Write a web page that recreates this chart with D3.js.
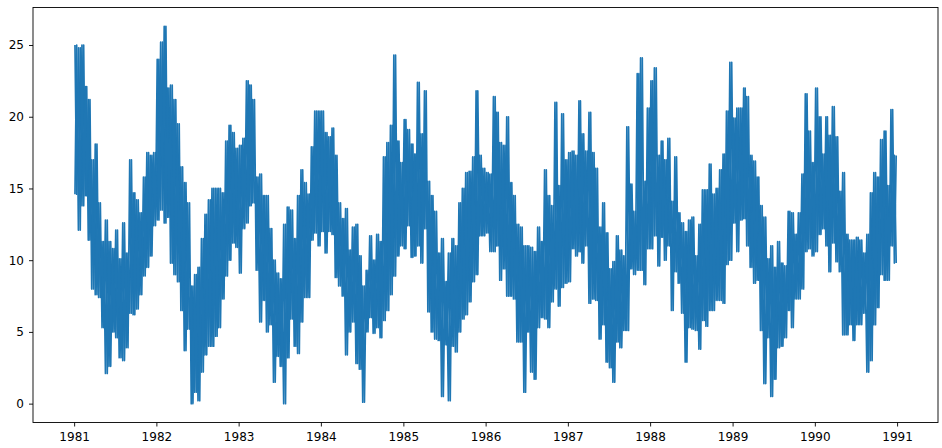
<!DOCTYPE html>
<html>
<head>
<meta charset="utf-8">
<script src="https://cdn.jsdelivr.net/npm/d3@7"></script>
<style>
    body { margin: 0; background: #fff; }
    text { font-family: "DejaVu Sans", sans-serif; }
</style>
</head>
<body>
<div id="output"></div>
<script>
    var width = 942;
    var height = 448;
    var plot = {left: 33, right: 938, top: 7.5, bottom: 422.5};

    var line_color = '#1f77b4';

    var years = [1981, 1982, 1983, 1984, 1985, 1986, 1987, 1988, 1989, 1990];
    var yTicks = [0, 5, 10, 15, 20, 25];

    // daily min temperature, read per half month as lowest / highest value
    var low1981  = [14.6, 12.1, 13.8, 14.5, 11.4, 8.0, 7.6, 7.4, 5.3, 2.1, 2.6, 5.0, 4.6, 3.2, 3.0, 3.9, 6.3, 6.2, 6.6, 7.6, 8.9, 9.5, 10.3, 12.4];
    var high1981 = [25.0, 24.8, 25.0, 22.1, 21.2, 17.0, 18.1, 14.0, 11.3, 12.8, 11.3, 10.8, 12.1, 10.1, 12.6, 10.5, 17.0, 14.7, 14.2, 13.3, 15.8, 17.5, 17.3, 17.5];
    var low1982  = [12.8, 13.5, 12.6, 13.0, 9.8, 9.0, 8.5, 6.5, 3.7, 5.2, 0.0, 0.8, 0.2, 2.2, 3.4, 4.0, 4.0, 4.7, 5.3, 7.3, 8.9, 10.0, 11.2, 10.9];
    var high1982 = [24.0, 25.2, 26.3, 22.0, 22.2, 21.2, 19.5, 16.5, 15.4, 14.0, 8.2, 9.0, 9.5, 11.5, 13.2, 14.2, 15.0, 15.0, 15.0, 14.7, 18.3, 19.4, 18.9, 17.8];
    var low1983  = [9.1, 12.2, 12.6, 13.8, 14.0, 9.3, 5.7, 7.2, 5.0, 5.5, 1.5, 3.3, 2.6, 0.0, 3.2, 5.9, 4.0, 3.5, 5.7, 7.4, 7.4, 11.4, 11.9, 11.0];
    var high1983 = [18.0, 18.5, 22.5, 22.2, 21.2, 15.8, 16.0, 14.5, 14.5, 12.2, 10.0, 9.1, 8.7, 12.5, 13.7, 13.5, 11.5, 14.5, 16.3, 15.4, 14.6, 17.9, 20.4, 20.4];
    var low1984  = [12.0, 10.5, 12.0, 11.8, 8.8, 8.2, 7.5, 3.4, 5.0, 5.7, 2.8, 2.4, 0.1, 5.0, 6.0, 4.9, 5.3, 4.6, 5.8, 6.5, 7.6, 8.9, 10.3, 11.0];
    var high1984 = [20.4, 18.9, 18.6, 19.2, 17.3, 14.0, 12.9, 13.6, 10.7, 12.3, 12.5, 10.3, 8.2, 9.3, 11.7, 10.0, 11.8, 11.3, 17.2, 18.2, 19.4, 24.3, 18.3, 16.8];
    var low1985  = [10.8, 12.4, 10.2, 10.3, 11.0, 9.8, 12.2, 6.4, 5.0, 4.5, 4.4, 0.5, 4.1, 0.2, 4.0, 3.6, 5.0, 5.9, 6.2, 7.1, 8.5, 9.0, 11.7, 11.7];
    var high1985 = [19.8, 19.1, 18.1, 17.4, 22.4, 18.8, 21.8, 15.5, 14.5, 13.4, 10.5, 11.5, 8.5, 10.5, 11.5, 11.0, 14.0, 15.0, 16.1, 16.2, 17.2, 21.8, 17.3, 16.4];
    var low1986  = [11.9, 10.6, 10.6, 11.0, 8.6, 9.4, 7.5, 7.5, 7.3, 4.3, 4.3, 0.8, 5.0, 2.2, 1.7, 5.3, 6.0, 5.9, 5.3, 7.1, 8.0, 6.8, 8.1, 8.4];
    var high1986 = [16.1, 16.0, 21.4, 20.3, 18.2, 18.0, 20.0, 15.4, 14.5, 12.5, 12.3, 11.0, 11.0, 10.9, 10.6, 12.3, 11.3, 16.3, 14.5, 13.8, 21.0, 15.2, 20.2, 17.0];
    var low1987  = [8.5, 10.8, 10.3, 10.6, 9.8, 11.0, 7.0, 7.3, 7.2, 4.5, 5.5, 2.9, 2.5, 1.5, 4.3, 3.9, 5.1, 5.1, 9.4, 9.0, 9.3, 9.3, 8.3, 10.8];
    var high1987 = [17.5, 17.6, 17.3, 21.1, 18.8, 17.6, 20.3, 17.5, 16.4, 12.3, 14.0, 11.9, 9.4, 9.9, 11.7, 10.7, 10.3, 19.3, 15.3, 13.4, 23.0, 24.1, 15.5, 20.6];
    var low1988  = [10.8, 11.7, 9.6, 11.6, 10.0, 11.0, 6.5, 9.2, 8.4, 6.3, 2.9, 5.3, 5.2, 5.1, 3.8, 5.8, 5.4, 6.5, 6.5, 7.2, 7.2, 7.0, 9.7, 10.0];
    var high1988 = [22.5, 23.4, 17.3, 18.3, 17.0, 18.5, 14.1, 17.2, 13.3, 12.6, 12.0, 12.8, 13.0, 10.3, 12.5, 14.9, 14.9, 16.7, 14.6, 15.0, 16.3, 17.4, 20.4, 23.8];
    var low1989  = [12.6, 10.6, 12.8, 12.9, 11.0, 9.5, 8.4, 8.6, 5.1, 1.4, 4.6, 0.5, 1.7, 3.9, 4.0, 4.6, 6.5, 5.3, 7.3, 7.3, 8.0, 10.6, 10.8, 10.3];
    var high1989 = [19.9, 20.6, 20.6, 22.0, 21.4, 17.3, 16.9, 15.8, 13.8, 13.0, 10.1, 11.0, 9.5, 11.3, 9.8, 9.6, 13.4, 13.3, 11.8, 13.3, 16.0, 21.6, 19.0, 16.8];
    var low1990  = [10.6, 11.8, 12.2, 11.0, 9.2, 11.2, 9.9, 9.2, 4.8, 4.8, 5.5, 4.4, 5.5, 5.5, 6.3, 2.2, 3.0, 5.5, 6.7, 9.0, 8.6, 8.6, 11.0, 9.8];
    var high1990 = [22.0, 20.0, 17.4, 20.0, 18.7, 20.7, 18.6, 14.8, 16.1, 11.8, 11.4, 11.4, 11.6, 11.4, 10.5, 11.8, 14.7, 16.1, 15.8, 18.4, 19.0, 15.2, 20.5, 17.3];

    var lows  = [low1981, low1982, low1983, low1984, low1985, low1986, low1987, low1988, low1989, low1990];
    var highs = [high1981, high1982, high1983, high1984, high1985, high1986, high1987, high1988, high1989, high1990];

    // start of half month k of a year
    var binStart = function(yr, k) {
        if (k >= 24) return new Date(yr + 1, 0, 1);
        return new Date(yr, Math.floor(k / 2), k % 2 ? 16 : 1);
    };

    // two passes through the same half-month extremes, opposite phase,
    // so the dense daily band comes out (nearly) solid like the original
    var makePoints = function(lowFirst) {
        var pts = [];
        years.forEach(function(yr, i) {
            for (var k = 0; k < 24; k++) {
                var s = binStart(yr, k), e = binStart(yr, k + 1);
                var span = e - s;
                var a = lowFirst ? lows[i][k] : highs[i][k];
                var b = lowFirst ? highs[i][k] : lows[i][k];
                pts.push({date: new Date(+s + span * 0.25), value: a});
                pts.push({date: new Date(+s + span * 0.75), value: b});
            }
        });
        return pts;
    };

    // matplotlib style 5% margins around the data
    var first = new Date(1981, 0, 1), last = new Date(1990, 11, 31);
    var padT = (last - first) * 0.05;
    var vmin = 0, vmax = 26.3, padV = (vmax - vmin) * 0.05;

    var x = d3.scaleTime()
        .domain([new Date(+first - padT), new Date(+last + padT)])
        .range([plot.left, plot.right]);
    var y = d3.scaleLinear()
        .domain([vmin - padV, vmax + padV])
        .range([plot.bottom, plot.top]);

    var svg = d3.select("#output").append("svg")
        .attr("width", width)
        .attr("height", height)
        .style("display", "block");

    svg.append('rect')
        .attr('width', width).attr('height', height)
        .attr('fill', '#fff');

    var line = d3.line()
        .x(function(d) { return x(d.date); })
        .y(function(d) { return y(d.value); });

    [true, false].forEach(function(lowFirst) {
        svg.append('path')
            .datum(makePoints(lowFirst))
            .attr('d', line)
            .attr('fill', 'none')
            .attr('stroke', line_color)
            .attr('stroke-width', 1.7)
            .attr('stroke-linejoin', 'round');
    });

    var xAxis = svg.append('g')
        .attr('transform', 'translate(0,' + plot.bottom + ')')
        .call(d3.axisBottom(x)
            .ticks(d3.timeYear.every(1))
            .tickFormat(d3.timeFormat('%Y'))
            .tickSize(4).tickPadding(6).tickSizeOuter(0));

    var yAxis = svg.append('g')
        .attr('transform', 'translate(' + plot.left + ',0)')
        .call(d3.axisLeft(y)
            .tickValues(yTicks)
            .tickSize(4).tickPadding(5).tickSizeOuter(0));

    [xAxis, yAxis].forEach(function(g) {
        g.select('.domain').remove();
        g.selectAll('text')
            .attr('font-size', 12)
            .attr('fill', '#000')
            .style('font-family', '"DejaVu Sans", sans-serif');
        g.selectAll('line').attr('stroke', '#000').attr('stroke-width', 0.9);
    });

    // frame
    svg.append('rect')
        .attr('x', plot.left).attr('y', plot.top)
        .attr('width', plot.right - plot.left)
        .attr('height', plot.bottom - plot.top)
        .attr('fill', 'none')
        .attr('stroke', '#000')
        .attr('stroke-width', 0.9);
</script>
</body>
</html>
